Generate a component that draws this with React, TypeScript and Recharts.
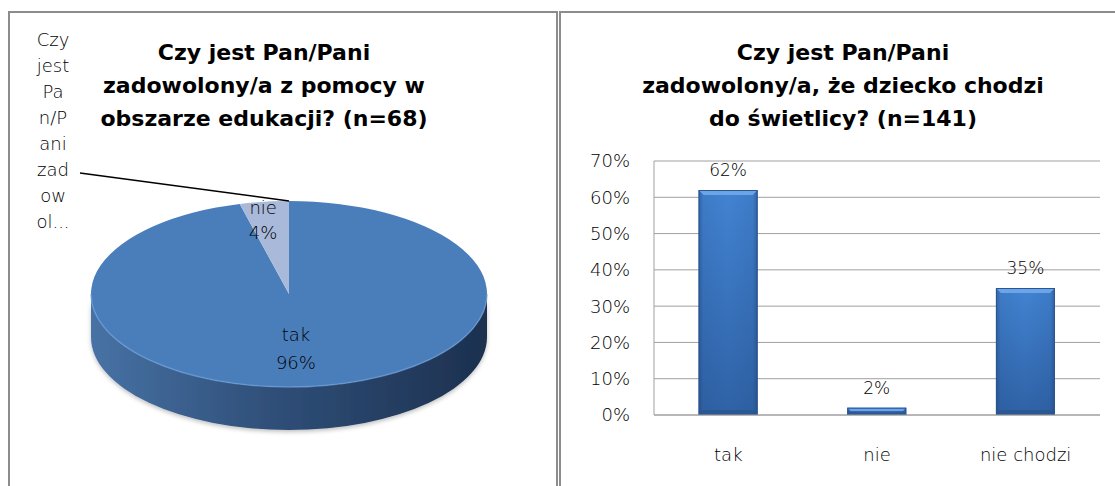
import React from 'react';
import { PieChart, Pie, Cell, BarChart, Bar, XAxis, YAxis, CartesianGrid, LabelList } from 'recharts';

// ---------- data ----------
const pieCategories = ['tak', 'nie'];
const pieValues = [96, 4];
const pieColors = ['#4a7ebb', '#a9b9d9'];
const pieTitle = ['Czy jest Pan/Pani', 'zadowolony/a z pomocy w', 'obszarze edukacji? (n=68)'];
const seriesNameLines = ['Czy', 'jest', 'Pa', 'n/P', 'ani', 'zad', 'ow', 'ol...'];

const barCategories = ['tak', 'nie', 'nie chodzi'];
const barValues = [0.62, 0.02, 0.35];
const barTitle = ['Czy jest Pan/Pani', 'zadowolony/a, że dziecko chodzi', 'do świetlicy? (n=141)'];
const yTicks = [0, 0.1, 0.2, 0.3, 0.4, 0.5, 0.6, 0.7];

const pieData = pieCategories.map((name, i) => ({ name, value: pieValues[i], fill: pieColors[i] }));
const barData = barCategories.map((name, i) => ({ name, value: barValues[i] }));

// ---------- style ----------
const TITLE_FONT = "'DejaVu Sans', sans-serif";
const LABEL_FONT = "'DejaVu Sans', sans-serif";
const LABEL_WEIGHT = 200;
const LABEL_COLOR = '#000';
const TILT = 93 / 198;
const DEPTH = 43;

const rad = (a: number) => (a * Math.PI) / 180;
const pt = (cx: number, cy: number, rx: number, ry: number, a: number) => [
  cx + rx * Math.cos(rad(a)),
  cy - ry * Math.sin(rad(a)),
];

const renderSlice = (props: any) => {
  const { cx, cy, outerRadius, startAngle, endAngle, fill } = props;
  const rx = outerRadius;
  const ry = outerRadius * TILT;
  const [x1, y1] = pt(cx, cy, rx, ry, startAngle);
  const [x2, y2] = pt(cx, cy, rx, ry, endAngle);
  const span = Math.abs(endAngle - startAngle);
  const large = span > 180 ? 1 : 0;
  const sweep = startAngle > endAngle ? 1 : 0;
  const top = `M${cx},${cy} L${x1},${y1} A${rx},${ry} 0 ${large} ${sweep} ${x2},${y2} Z`;
  const lo = Math.min(startAngle, endAngle);
  const hi = Math.max(startAngle, endAngle);
  const sides: string[] = [];
  const rims: string[] = [];
  for (let k = -2; k <= 2; k++) {
    const s = Math.max(lo, -180 + 360 * k);
    const e = Math.min(hi, 360 * k);
    if (e - s > 0.01) {
      const [sx, sy] = pt(cx, cy, rx, ry, s);
      const [ex, ey] = pt(cx, cy, rx, ry, e);
      const l = e - s > 180 ? 1 : 0;
      sides.push(
        `M${sx},${sy} A${rx},${ry} 0 ${l} 0 ${ex},${ey} L${ex},${ey + DEPTH} A${rx},${ry} 0 ${l} 1 ${sx},${sy + DEPTH} Z`
      );
      rims.push(`M${sx},${sy} A${rx},${ry} 0 ${l} 0 ${ex},${ey}`);
    }
  }
  return (
    <g>
      {sides.map((d, i) => (
        <path key={'s' + i} d={d} fill="url(#pieSide)" filter="url(#softShadow)" />
      ))}
      <path d={top} fill={fill} />
      {rims.map((d, i) => (
        <path key={'r' + i} d={d} fill="none" stroke="#6b9bd6" strokeWidth={1.5} opacity={0.7} />
      ))}
    </g>
  );
};

const renderPieLabel = (props: any) => {
  const { cx, cy, outerRadius, midAngle, percent, name, index, endAngle } = props;
  const rx = outerRadius;
  const ry = outerRadius * TILT;
  const ratio = percent > 0.5 ? 0.6 : 0.8;
  const [lx0, ly] = pt(cx, cy, rx * ratio, ry * ratio, midAngle);
  const lx = percent > 0.5 ? lx0 - 8 : lx0 - 6;
  const pct = `${Math.round(percent * 100)}%`;
  const gap = percent > 0.5 ? 28 : 25;
  const text = (
    <text
      key="t"
      x={lx}
      textAnchor="middle"
      fontFamily={LABEL_FONT}
      fontWeight={LABEL_WEIGHT}
      fontSize={18}
      fill={LABEL_COLOR}
    >
      <tspan x={lx} y={ly - gap / 2 + 6}>{name}</tspan>
      <tspan x={lx} y={ly + gap / 2 + 6}>{pct}</tspan>
    </text>
  );
  if (percent > 0.5) return <g key={'l' + index}>{text}</g>;
  const [tx, ty] = pt(cx, cy, rx, ry, endAngle);
  return (
    <g key={'l' + index}>
      {text}
      <path d={`M80,173 L${tx},${ty}`} stroke="#000" strokeWidth={1.5} fill="none" />
      <text textAnchor="middle" fontFamily={LABEL_FONT} fontWeight={LABEL_WEIGHT} fontSize={18} fill={LABEL_COLOR}>
        {seriesNameLines.map((s, i) => (
          <tspan key={i} x={53} y={46 + i * 26}>
            {s}
          </tspan>
        ))}
      </text>
    </g>
  );
};

const BevelBar = (props: any) => {
  const { x, y, width, height } = props;
  if (!height || height <= 0) return null;
  const b = Math.min(5, height / 2);
  return (
    <g>
      <rect x={x} y={y} width={width} height={height} fill="url(#barBody)" />
      <rect x={x} y={y} width={width} height={height} fill="url(#barEdge)" />
      <polygon
        points={`${x},${y} ${x + width},${y} ${x + width - b},${y + b} ${x + b},${y + b}`}
        fill="#6aa5ea"
      />
      <polygon
        points={`${x},${y + height} ${x + width},${y + height} ${x + width - b},${y + height - b} ${x + b},${y + height - b}`}
        fill="#2a5189"
        opacity={0.6}
      />
      <rect x={x + 0.5} y={y + 0.5} width={width - 1} height={height - 1} fill="none" stroke="#2c548e" strokeWidth={1} />
    </g>
  );
};

const Title = ({ lines, left, width }: { lines: string[]; left: number; width: number }) => (
  <div
    style={{
      position: 'absolute',
      left,
      top: 36,
      width,
      textAlign: 'center',
      fontFamily: TITLE_FONT,
      fontWeight: 'bold',
      fontSize: 22,
      lineHeight: '33px',
      color: '#000',
      whiteSpace: 'nowrap',
    }}
  >
    {lines.map((l, i) => (
      <div key={i}>{l}</div>
    ))}
  </div>
);

export default function App() {
  return (
    <div
      style={{
        position: 'absolute',
        left: 0,
        top: 0,
        width: 1115,
        height: 486,
        background: '#fff',
        overflow: 'hidden',
      }}
    >
      <svg width={0} height={0} style={{ position: 'absolute' }}>
        <defs>
          <linearGradient id="pieSide" gradientUnits="userSpaceOnUse" x1={86} y1={0} x2={482} y2={0}>
            <stop offset="0%" stopColor="#4873a6" />
            <stop offset="45%" stopColor="#30507a" />
            <stop offset="100%" stopColor="#1d3150" />
          </linearGradient>
          <linearGradient id="barBody" x1="0" y1="0" x2="0" y2="1">
            <stop offset="0%" stopColor="#4283d2" />
            <stop offset="100%" stopColor="#2f62a6" />
          </linearGradient>
          <linearGradient id="barEdge" x1="0" y1="0" x2="1" y2="0">
            <stop offset="0%" stopColor="#1c3d6e" stopOpacity={0.45} />
            <stop offset="8%" stopColor="#1c3d6e" stopOpacity={0.1} />
            <stop offset="50%" stopColor="#1c3d6e" stopOpacity={0} />
            <stop offset="92%" stopColor="#1c3d6e" stopOpacity={0.1} />
            <stop offset="100%" stopColor="#1c3d6e" stopOpacity={0.45} />
          </linearGradient>
          <filter id="softShadow" x="-10%" y="-10%" width="120%" height="140%">
            <feDropShadow dx="0" dy="2" stdDeviation="2" floodColor="#000" floodOpacity="0.25" />
          </filter>
        </defs>
      </svg>

      {/* panel borders */}
      <div
        style={{
          position: 'absolute',
          left: 8,
          top: 11,
          width: 550,
          height: 520,
          border: '2px solid #8c8c8c',
          boxSizing: 'border-box',
        }}
      />
      <div
        style={{
          position: 'absolute',
          left: 559,
          top: 11,
          width: 600,
          height: 520,
          border: '2px solid #8c8c8c',
          boxSizing: 'border-box',
        }}
      />

      {/* left: 3D pie */}
      <div style={{ position: 'absolute', left: 0, top: 0 }}>
        <PieChart width={558} height={486}>
          <Pie
            data={pieData}
            dataKey="value"
            nameKey="name"
            cx={284}
            cy={289}
            outerRadius={198}
            startAngle={90}
            endAngle={-270}
            stroke="none"
            isAnimationActive={false}
            shape={renderSlice}
            activeShape={renderSlice}
            inactiveShape={renderSlice}
            label={renderPieLabel}
            labelLine={false}
          >
            {pieData.map((d, i) => (
              <Cell key={i} fill={d.fill} />
            ))}
          </Pie>
        </PieChart>
      </div>
      <Title lines={pieTitle} left={14} width={500} />

      {/* right: bar chart */}
      <div style={{ position: 'absolute', left: 559, top: 0 }}>
        <BarChart
          width={556}
          height={486}
          data={barData}
          margin={{ top: 161, right: 15, bottom: 31, left: 0 }}
          barCategoryGap="30%"
        >
          <CartesianGrid horizontal vertical={false} stroke="#a0a0a0" />
          <XAxis
            dataKey="name"
            height={40}
            axisLine={{ stroke: '#a0a0a0' }}
            tickLine={false}
            tickMargin={27}
            tick={{ fontFamily: LABEL_FONT, fontWeight: LABEL_WEIGHT, fontSize: 18, fill: LABEL_COLOR }}
          />
          <YAxis
            width={95}
            domain={[0, 0.7]}
            ticks={yTicks}
            interval={0}
            axisLine={{ stroke: '#a0a0a0' }}
            tickLine={false}
            tickMargin={18}
            tickFormatter={(v: number) => `${Math.round(v * 100)}%`}
            tick={{ fontFamily: LABEL_FONT, fontWeight: LABEL_WEIGHT, fontSize: 18, fill: LABEL_COLOR }}
          />
          <Bar dataKey="value" isAnimationActive={false} shape={BevelBar}>
            <LabelList
              dataKey="value"
              position="top"
              offset={14}
              formatter={(v: any) => `${Math.round(Number(v) * 100)}%`}
              style={{ fontFamily: LABEL_FONT, fontWeight: LABEL_WEIGHT, fontSize: 17, fill: LABEL_COLOR }}
            />
          </Bar>
        </BarChart>
      </div>
      <Title lines={barTitle} left={593} width={500} />
    </div>
  );
}
